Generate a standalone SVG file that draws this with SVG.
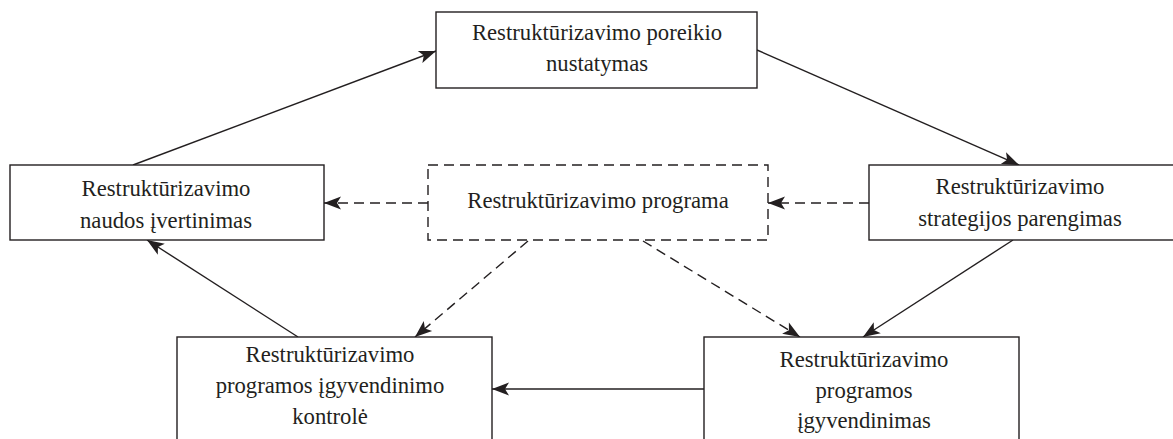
<svg xmlns="http://www.w3.org/2000/svg" width="1173" height="439" viewBox="0 0 1173 439">
<style>
.box{fill:#fff;stroke:#231f20;stroke-width:1.4}
.dbox{fill:#fff;stroke:#231f20;stroke-width:1.4;stroke-dasharray:10 6}
.t{font-family:"Liberation Serif","Times New Roman",serif;font-size:22.7px;fill:#231f20;text-anchor:middle}
.c{fill:none;stroke:#231f20;stroke-width:1.4;marker-end:url(#ah)}
.d{fill:none;stroke:#231f20;stroke-width:1.4;stroke-dasharray:10 6;marker-end:url(#ah)}
</style>
<defs>
<marker id="ah" markerUnits="userSpaceOnUse" markerWidth="17" markerHeight="13" refX="17" refY="6.5" orient="auto" overflow="visible">
<path d="M0,0 L17,6.5 L0,13 L4,6.5 Z" fill="#231f20"/>
</marker>
</defs>
<rect width="1173" height="439" fill="#fff"/>
<g id="connectors">
<line class="c" x1="133" y1="165" x2="436" y2="51"/>
<line class="c" x1="757" y1="50" x2="1019" y2="165"/>
<line class="c" x1="1013" y1="240" x2="863" y2="337"/>
<line class="c" x1="704" y1="389" x2="492" y2="389"/>
<line class="c" x1="298" y1="337" x2="147" y2="240"/>
<line class="d" x1="428" y1="203" x2="324" y2="203"/>
<line class="d" x1="869" y1="203" x2="768" y2="203"/>
<line class="d" x1="528" y1="241" x2="415" y2="337"/>
<line class="d" x1="643" y1="241" x2="800" y2="337"/>
</g>
<g id="n-poreikio">
<rect class="box" x="436" y="12" width="321" height="76"/>
<text class="t" x="597" y="40">Restruktūrizavimo poreikio</text>
<text class="t" x="597" y="71">nustatymas</text>
</g>
<g id="n-naudos">
<rect class="box" x="10" y="165" width="314" height="75"/>
<text class="t" x="166" y="196">Restruktūrizavimo</text>
<text class="t" x="166" y="228">naudos įvertinimas</text>
</g>
<g id="n-programa">
<rect class="dbox" x="428" y="165" width="340" height="75"/>
<text class="t" x="598" y="208">Restruktūrizavimo programa</text>
</g>
<g id="n-strategijos">
<rect class="box" x="869" y="165" width="320" height="75"/>
<text class="t" x="1020" y="194">Restruktūrizavimo</text>
<text class="t" x="1020" y="226">strategijos parengimas</text>
</g>
<g id="n-kontrole">
<rect class="box" x="177" y="337" width="315" height="120"/>
<text class="t" x="330" y="362">Restruktūrizavimo</text>
<text class="t" x="330" y="393">programos įgyvendinimo</text>
<text class="t" x="330" y="424">kontrolė</text>
</g>
<g id="n-igyvendinimas">
<rect class="box" x="704" y="337" width="315" height="120"/>
<text class="t" x="864" y="367">Restruktūrizavimo</text>
<text class="t" x="864" y="398">programos</text>
<text class="t" x="864" y="428">įgyvendinimas</text>
</g>
</svg>
